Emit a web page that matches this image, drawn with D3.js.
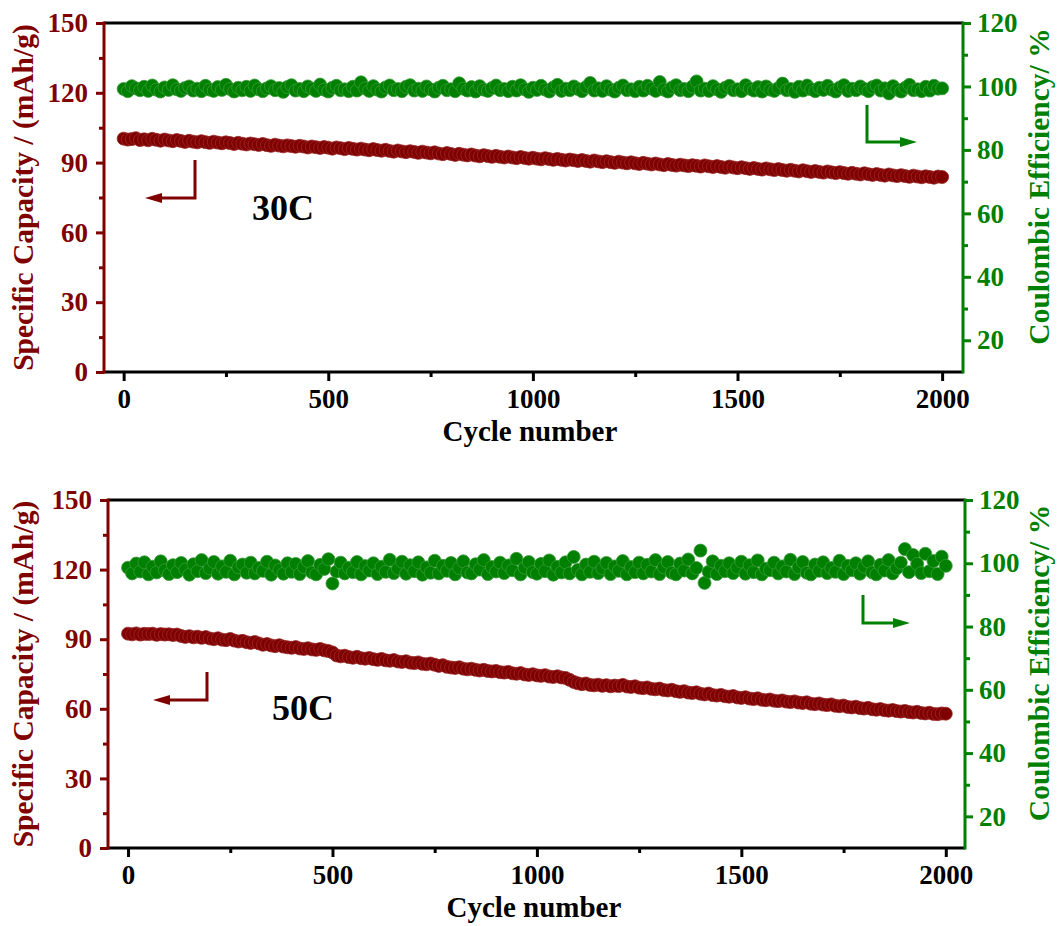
<!DOCTYPE html>
<html>
<head>
<meta charset="utf-8">
<script src="https://cdn.jsdelivr.net/npm/d3@7"></script>
<style>
  body { margin: 0; background: #fff; }
  svg text { font-family: "Liberation Serif", "Times New Roman", serif; font-weight: bold; }
</style>
</head>
<body>
<svg id="chart" width="1059" height="926"></svg>
<script>
// ---- data (one point every 10 cycles) ----
const cycles = [
  0, 10, 20, 30, 40, 50, 60, 70, 80, 90,
  100, 110, 120, 130, 140, 150, 160, 170, 180, 190,
  200, 210, 220, 230, 240, 250, 260, 270, 280, 290,
  300, 310, 320, 330, 340, 350, 360, 370, 380, 390,
  400, 410, 420, 430, 440, 450, 460, 470, 480, 490,
  500, 510, 520, 530, 540, 550, 560, 570, 580, 590,
  600, 610, 620, 630, 640, 650, 660, 670, 680, 690,
  700, 710, 720, 730, 740, 750, 760, 770, 780, 790,
  800, 810, 820, 830, 840, 850, 860, 870, 880, 890,
  900, 910, 920, 930, 940, 950, 960, 970, 980, 990,
  1000, 1010, 1020, 1030, 1040, 1050, 1060, 1070, 1080, 1090,
  1100, 1110, 1120, 1130, 1140, 1150, 1160, 1170, 1180, 1190,
  1200, 1210, 1220, 1230, 1240, 1250, 1260, 1270, 1280, 1290,
  1300, 1310, 1320, 1330, 1340, 1350, 1360, 1370, 1380, 1390,
  1400, 1410, 1420, 1430, 1440, 1450, 1460, 1470, 1480, 1490,
  1500, 1510, 1520, 1530, 1540, 1550, 1560, 1570, 1580, 1590,
  1600, 1610, 1620, 1630, 1640, 1650, 1660, 1670, 1680, 1690,
  1700, 1710, 1720, 1730, 1740, 1750, 1760, 1770, 1780, 1790,
  1800, 1810, 1820, 1830, 1840, 1850, 1860, 1870, 1880, 1890,
  1900, 1910, 1920, 1930, 1940, 1950, 1960, 1970, 1980, 1990,
  2000
];

// specific capacity, mAh/g
const capacity30C = [
  100.3, 99.9, 100.1, 100.5, 99.7, 100.0, 99.6, 100.2, 99.8, 99.4,
  99.9, 99.5, 99.2, 99.7, 99.3, 98.9, 99.4, 99.0, 98.7, 99.2,
  98.8, 98.5, 99.0, 98.6, 98.3, 98.7, 98.4, 98.0, 98.5, 98.1,
  97.8, 98.2, 97.9, 97.6, 98.0, 97.5, 97.2, 97.7, 97.3, 97.0,
  97.4, 97.1, 96.8, 97.2, 96.9, 96.5, 96.9, 96.6, 96.3, 96.7,
  96.4, 96.0, 96.5, 96.2, 95.8, 96.3, 95.9, 95.6, 96.0, 95.6,
  95.3, 95.8, 95.4, 95.1, 95.5, 95.0, 94.7, 95.2, 94.8, 94.5,
  94.9, 94.6, 94.2, 94.7, 94.3, 94.0, 94.4, 93.9, 93.6, 94.1,
  93.7, 93.3, 93.8, 93.4, 93.1, 93.5, 93.0, 92.7, 93.2, 92.8,
  92.5, 92.9, 92.5, 92.2, 92.6, 92.2, 91.9, 92.4, 92.0, 91.7,
  92.1, 91.7, 91.4, 91.9, 91.5, 91.2, 91.6, 91.2, 90.9, 91.3,
  91.0, 90.7, 91.1, 90.7, 90.4, 90.9, 90.5, 90.2, 90.6, 90.2,
  89.9, 90.4, 90.0, 89.7, 90.1, 89.7, 89.4, 89.9, 89.5, 89.2,
  89.6, 89.2, 88.9, 89.4, 89.0, 88.7, 89.1, 88.8, 88.5, 88.9,
  88.6, 88.3, 88.8, 88.4, 88.1, 88.5, 88.1, 87.8, 88.3, 87.9,
  87.6, 88.0, 87.6, 87.3, 87.7, 87.3, 87.0, 87.5, 87.1, 86.8,
  87.2, 86.8, 86.5, 86.9, 86.5, 86.2, 86.7, 86.3, 86.0, 86.4,
  86.0, 85.7, 86.2, 85.8, 85.5, 85.9, 85.5, 85.2, 85.6, 85.2,
  84.9, 85.4, 85.0, 84.7, 85.1, 84.7, 84.4, 84.9, 84.5, 84.2,
  84.6, 84.2, 83.9, 84.4, 84.0, 83.7, 84.1, 83.8, 83.5, 84.0,
  83.8
];
const capacity50C = [
  92.4, 92.1, 92.5, 92.0, 92.3, 92.2, 92.4, 91.9, 92.2, 92.0,
  92.1, 91.8, 92.0, 91.4, 91.0, 91.3, 90.8, 91.1, 90.6, 90.9,
  90.3, 90.0, 90.4, 89.8, 89.6, 90.1, 89.4, 89.0, 89.3, 88.7,
  88.4, 88.8, 88.2, 87.6, 87.9, 87.3, 87.0, 87.4, 86.8, 86.5,
  86.3, 86.6, 86.0, 85.8, 86.1, 85.6, 85.4, 85.8, 85.2, 84.9,
  84.3, 83.0, 82.6, 82.9, 82.3, 82.0, 82.4, 81.8, 81.6, 81.9,
  81.4, 81.1, 81.5, 80.9, 80.7, 81.0, 80.4, 80.2, 80.5, 79.9,
  79.7, 80.0, 79.4, 79.2, 79.5, 79.0, 78.5, 78.8, 78.1, 77.8,
  77.6, 77.9, 77.3, 77.0, 77.3, 76.8, 76.5, 76.8, 76.3, 76.1,
  76.3, 75.8, 75.6, 75.9, 75.3, 75.1, 75.4, 74.8, 74.6, 74.9,
  74.4, 74.2, 74.5, 73.9, 73.7, 74.0, 73.5, 73.3, 72.5, 71.6,
  71.0, 70.6, 70.9, 70.3, 70.1, 70.4, 69.9, 70.2, 69.7, 70.0,
  69.8, 70.3, 69.6, 69.4, 69.7, 69.1, 68.9, 69.2, 68.6, 68.4,
  68.7, 68.1, 67.9, 68.2, 67.6, 67.3, 67.6, 67.0, 66.8, 67.1,
  66.5, 66.2, 66.6, 65.9, 65.7, 66.0, 65.4, 65.2, 65.5, 64.9,
  64.7, 65.0, 64.4, 64.2, 64.5, 63.9, 63.7, 64.0, 63.5, 63.3,
  63.6, 63.1, 62.9, 63.2, 62.7, 62.5, 62.8, 62.2, 62.0, 62.3,
  61.8, 61.6, 61.9, 61.3, 61.1, 61.4, 60.8, 60.6, 60.9, 60.3,
  60.1, 60.4, 59.8, 59.6, 59.9, 59.4, 59.2, 59.5, 59.0, 58.8,
  59.1, 58.6, 58.4, 58.7, 58.2, 58.0, 58.3, 57.8, 57.7, 58.0,
  57.9
];

// coulombic efficiency, %
const efficiency30C = [
  99.2, 98.5, 100.1, 99.4, 98.8, 99.9, 98.6, 100.3, 99.0, 98.4,
  99.7, 98.9, 100.4, 99.1, 98.6, 99.5, 100.0, 98.7, 99.3, 98.5,
  100.2, 99.0, 98.6, 99.8, 98.9, 100.5, 99.2, 98.4, 99.6, 98.8,
  99.9, 98.6, 100.3, 99.1, 98.5, 99.4, 100.1, 98.8, 99.5, 98.3,
  99.8, 100.4, 98.7, 99.2, 98.5, 100.0, 99.3, 98.6, 100.6, 99.0,
  98.4, 99.6, 100.2, 98.8, 99.1, 98.5, 99.9, 98.7, 101.3, 99.4,
  98.6, 100.1, 99.0, 98.4, 99.7, 100.3, 98.8, 99.2, 98.5, 99.9,
  100.4, 98.7, 99.3, 98.6, 100.0, 99.1, 98.4, 99.6, 100.2, 98.8,
  99.1, 98.5, 101.0, 99.3, 98.7, 99.8, 98.4, 100.1, 99.0, 98.6,
  99.5, 100.3, 98.8, 99.2, 98.5, 99.9, 98.7, 100.4, 99.1, 98.3,
  99.6, 98.9, 100.2, 99.0, 98.4, 99.7, 100.5, 98.6, 99.3, 98.8,
  100.0, 99.2, 98.5, 99.8, 101.1, 98.7, 99.4, 98.6, 100.1, 99.0,
  98.4, 99.6, 100.3, 98.8, 99.1, 98.5, 99.9, 98.7, 100.2, 99.3,
  98.6, 101.4, 99.0, 98.4, 99.7, 100.4, 98.8, 99.2, 98.5, 100.0,
  101.6, 98.7, 99.3, 98.6, 100.1, 99.1, 98.3, 99.6, 100.2, 98.8,
  99.1, 98.5, 100.4, 99.3, 98.7, 99.8, 98.4, 100.0, 99.0, 98.6,
  99.5, 100.9, 98.8, 99.2, 98.3, 99.9, 98.7, 100.3, 99.1, 98.5,
  99.6, 98.9, 100.2, 99.0, 98.4, 99.7, 100.4, 98.6, 99.3, 98.8,
  100.0, 99.2, 98.5, 99.8, 100.3, 98.7, 99.4, 97.8, 100.1, 99.0,
  98.4, 99.6, 100.5, 98.8, 99.1, 98.5, 99.9, 98.7, 100.2, 99.3,
  99.4
];
const efficiency50C = [
  98.6, 96.8, 99.9, 97.4, 100.3, 96.5, 98.9, 97.1, 100.6, 97.8,
  96.6, 99.4, 97.2, 100.1, 98.0, 96.4, 99.7, 97.5, 101.0, 96.9,
  98.4, 100.4, 96.7, 99.0, 97.3, 100.8, 96.5, 98.7, 99.6, 97.0,
  100.2, 96.8, 98.5, 97.6, 100.5, 96.4, 99.3, 97.9, 96.7, 100.0,
  97.3, 99.8, 96.6, 98.8, 100.7, 97.1, 96.5, 99.5, 98.2, 101.3,
  93.6, 97.4, 100.2, 96.8, 98.6, 97.2, 100.4, 96.5, 99.1, 97.7,
  100.0, 96.6, 98.9, 97.3, 101.1, 96.9, 98.3, 100.5, 96.7, 99.4,
  97.5, 100.3, 96.4, 98.7, 97.0, 100.8, 96.8, 99.2, 97.6, 100.1,
  96.5, 98.5, 100.6, 97.1, 96.8, 99.7, 98.0, 101.0, 96.6, 98.8,
  97.4, 100.2, 96.9, 99.3, 97.8, 101.4, 96.5, 98.6, 100.4, 97.2,
  96.7, 99.8, 97.5, 100.9, 96.4, 98.9, 97.1, 100.3, 96.8, 102.0,
  97.9, 96.5, 99.6, 97.3, 100.5, 96.9, 98.4, 100.1, 96.6, 99.0,
  97.6, 100.7, 96.5, 98.8, 97.2, 100.2, 96.8, 99.5, 97.4, 101.0,
  96.6, 98.7, 100.4, 97.0, 96.5, 99.9, 97.7, 101.2, 96.8, 98.5,
  104.0, 93.8, 97.3, 100.6, 96.6, 99.2, 97.5, 100.0, 96.9, 98.6,
  100.5, 96.7, 99.4, 97.2, 100.9, 96.5, 98.3, 97.8, 100.2, 96.8,
  99.0, 97.4, 101.1, 96.6, 98.7, 100.4, 97.0, 96.5, 99.6, 97.6,
  100.3, 96.9, 98.5, 97.3, 100.8, 96.6, 99.2, 97.8, 100.0, 96.7,
  98.9, 100.6, 97.1, 96.5, 99.5, 97.7, 101.0, 96.8, 98.4, 100.2,
  104.5, 97.2, 102.6, 99.8, 96.9, 103.0, 97.5, 100.7, 96.6, 102.1,
  99.2
];

// ticks
const xMajor = [0, 500, 1000, 1500, 2000];
const xMinor = [250, 750, 1250, 1750];
const capMajor = [0, 30, 60, 90, 120, 150];
const capMinor = [15, 45, 75, 105, 135];
const ceMajor = [20, 40, 60, 80, 100, 120];
const ceMinor = [30, 50, 70, 90, 110];

const rateLabels = ['30C', '50C'];

// ---- layout ----
const RED = '#800000', GREEN = '#008000';
const FONT = '"Liberation Serif", "Times New Roman", serif';
const svg = d3.select('#chart');

const panels = [
  { rate: rateLabels[0], cap: capacity30C, ce: efficiency30C,
    l: 104, r: 963, t: 23, b: 372, xDom: [-48, 2051],
    label: [252, 220],
    capArrow: { x: 195, y1: 160, y2: 198, tip: 145 },
    ceArrow:  { x: 867, y1: 105, y2: 142, tip: 917 } },
  { rate: rateLabels[1], cap: capacity50C, ce: efficiency50C,
    l: 108, r: 965, t: 500, b: 848, xDom: [-49, 2047],
    label: [272, 720],
    capArrow: { x: 207, y1: 672, y2: 700, tip: 153 },
    ceArrow:  { x: 863, y1: 595, y2: 623, tip: 910 } }
];

function arrow(g, a, color) {
  const dir = a.tip < a.x ? 1 : -1;
  g.append('path')
    .attr('d', `M${a.x},${a.y1}V${a.y2}H${a.tip + dir * 12}`)
    .attr('fill', 'none').attr('stroke', color).attr('stroke-width', 3);
  g.append('path')
    .attr('d', `M${a.tip},${a.y2}L${a.tip + dir * 17},${a.y2 - 5}L${a.tip + dir * 17},${a.y2 + 5}Z`)
    .attr('fill', color);
}

function styleAxis(ax, color) {
  ax.selectAll('.domain').remove();
  ax.selectAll('line').attr('stroke', color).attr('stroke-width', 3);
  ax.selectAll('text').attr('fill', color).attr('font-weight', 'bold')
    .style('font-size', '27px').style('font-weight', 'bold').style('font-family', FONT);
}

panels.forEach(p => {
  const x = d3.scaleLinear().domain(p.xDom).range([p.l, p.r]);
  const yCap = d3.scaleLinear().domain([0, 150]).range([p.b, p.t]);
  const yCe = d3.scaleLinear().domain([10, 120]).range([p.b, p.t]);

  const g = svg.append('g');

  // data markers
  g.append('g').selectAll('circle')
    .data(cycles.map((c, i) => [c, p.ce[i]]))
    .join('circle')
    .attr('cx', d => x(d[0])).attr('cy', d => yCe(d[1])).attr('r', 6.5)
    .attr('fill', GREEN).attr('stroke', '#3a9a3a').attr('stroke-width', 0.8);

  g.append('g').selectAll('circle')
    .data(cycles.map((c, i) => [c, p.cap[i]]))
    .join('circle')
    .attr('cx', d => x(d[0])).attr('cy', d => yCap(d[1])).attr('r', 6.5)
    .attr('fill', RED).attr('stroke', '#9a2a2a').attr('stroke-width', 0.8);

  // bottom axis
  const xAx = g.append('g').attr('transform', `translate(0,${p.b})`);
  xAx.call(d3.axisBottom(x).tickValues(xMajor).tickSize(9).tickPadding(8).tickFormat(d3.format('d')));
  xAx.append('g').call(d3.axisBottom(x).tickValues(xMinor).tickSize(5).tickFormat(''));
  styleAxis(xAx, '#000');

  // left axis
  const lAx = g.append('g').attr('transform', `translate(${p.l},0)`);
  lAx.call(d3.axisLeft(yCap).tickValues(capMajor).tickSize(8).tickPadding(8));
  lAx.append('g').call(d3.axisLeft(yCap).tickValues(capMinor).tickSize(5).tickFormat(''));
  styleAxis(lAx, RED);

  // right axis
  const rAx = g.append('g').attr('transform', `translate(${p.r},0)`);
  rAx.call(d3.axisRight(yCe).tickValues(ceMajor).tickSize(8).tickPadding(6));
  rAx.append('g').call(d3.axisRight(yCe).tickValues(ceMinor).tickSize(5).tickFormat(''));
  styleAxis(rAx, GREEN);

  // frame lines
  g.append('line').attr('x1', p.l).attr('x2', p.r).attr('y1', p.t).attr('y2', p.t)
    .attr('stroke', '#000').attr('stroke-width', 3);
  g.append('line').attr('x1', p.l).attr('x2', p.r).attr('y1', p.b).attr('y2', p.b)
    .attr('stroke', '#000').attr('stroke-width', 3);
  g.append('line').attr('x1', p.l).attr('x2', p.l).attr('y1', p.t - 1.5).attr('y2', p.b + 1.5)
    .attr('stroke', RED).attr('stroke-width', 3);
  g.append('line').attr('x1', p.r).attr('x2', p.r).attr('y1', p.t - 1.5).attr('y2', p.b + 1.5)
    .attr('stroke', GREEN).attr('stroke-width', 3);

  // titles
  g.append('text').attr('x', (x(0) + x(2000)) / 2 - 3).attr('y', p.b + 69)
    .attr('text-anchor', 'middle').attr('font-size', 29).attr('fill', '#000')
    .text('Cycle number');
  g.append('text')
    .attr('transform', `translate(33,${(p.t + p.b) / 2}) rotate(-90)`)
    .attr('text-anchor', 'middle').attr('font-size', 29.5).attr('fill', RED)
    .text('Specific Capacity / (mAh/g)');
  g.append('text')
    .attr('transform', `translate(1049,${(p.t + p.b) / 2 - 11}) rotate(-90)`)
    .attr('text-anchor', 'middle').attr('font-size', 29.5).attr('fill', GREEN)
    .text('Coulombic Efficiency/ %');

  g.append('text').attr('x', p.label[0]).attr('y', p.label[1])
    .attr('font-size', 36).attr('fill', '#000').text(p.rate);

  arrow(g, p.capArrow, RED);
  arrow(g, p.ceArrow, GREEN);
});
</script>
</body>
</html>
